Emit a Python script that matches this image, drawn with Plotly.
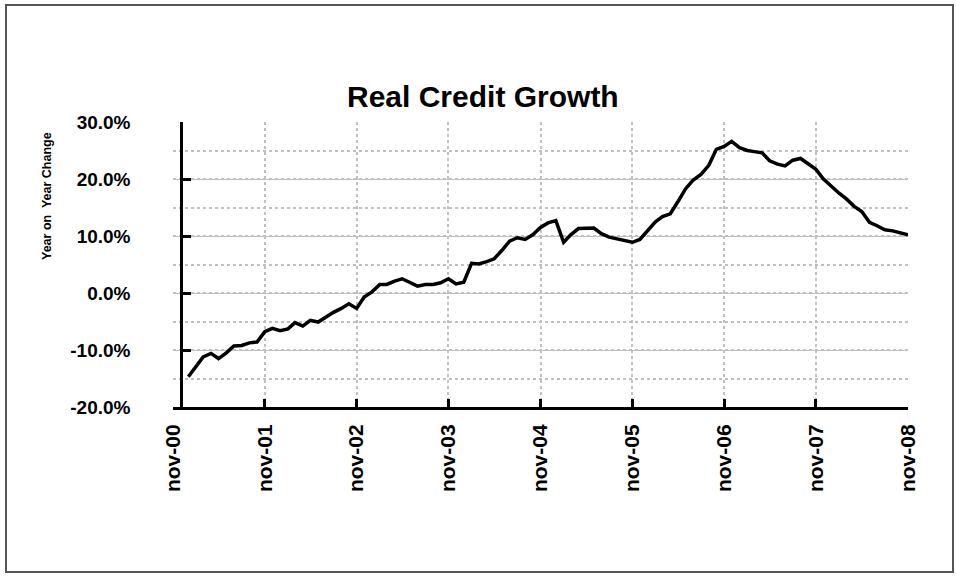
import plotly.graph_objects as go
import pandas as pd

# ── data: monthly real credit growth, Jan-01 .. Nov-08 (% y/y) ─────────────
months = pd.date_range("2001-01-01", "2008-11-01", freq="MS")
growth = [
    # 2001 Jan..Dec
    -14.7, -12.8, -11.2, -10.6, -11.5, -10.5, -9.3, -9.2, -8.75, -8.6, -6.8, -6.2,
    # 2002
    -6.6, -6.3, -5.2, -5.8, -4.8, -5.1, -4.2, -3.4, -2.7, -1.9, -2.7, -0.7,
    # 2003
    0.2, 1.5, 1.5, 2.1, 2.5, 1.9, 1.2, 1.5, 1.5, 1.8, 2.5, 1.6,
    # 2004
    1.9, 5.2, 5.1, 5.5, 6.0, 7.5, 9.1, 9.7, 9.4, 10.2, 11.5, 12.3,
    # 2005
    12.7, 8.9, 10.2, 11.3, 11.3, 11.4, 10.4, 9.8, 9.5, 9.2, 8.9, 9.4,
    # 2006
    11.0, 12.5, 13.4, 13.9, 16.0, 18.3, 19.8, 20.8, 22.4, 25.2, 25.7, 26.6,
    # 2007
    25.5, 25.0, 24.8, 24.6, 23.2, 22.6, 22.3, 23.3, 23.6, 22.7, 21.7, 20.0,
    # 2008 Jan..Nov
    18.7, 17.5, 16.5, 15.2, 14.3, 12.4, 11.8, 11.1, 10.9, 10.6, 10.2,
]
tick_dates = pd.date_range("2000-11-01", "2008-11-01", freq="12MS")
tick_text = [f"nov-{d.year % 100:02d}" for d in tick_dates]
y_ticks = [-20, -10, 0, 10, 20, 30]
y_text = [f"{v:.1f}%" for v in y_ticks]

FONT = "Liberation Sans, Arial, sans-serif"
GRID = "#c0c0c0"

# plot-area geometry (px) used to place paper-ref decorations
L, R, T, B = 173, 908, 122, 407
W, H = 956, 580


def px_to_paper(x, y):
    return (x - L) / (R - L), (B - y) / (B - T)


fig = go.Figure()
fig.add_trace(go.Scatter(
    x=months, y=growth,
    mode="lines",
    line=dict(color="black", width=3.5),
    showlegend=False,
))

# y axis crosses at Dec-00 (first category in the original)
x_range = [tick_dates[0], tick_dates[-1]]
span = (x_range[1] - x_range[0]).days
ypos = (pd.Timestamp("2000-12-04") - x_range[0]).days / span

fig.update_layout(
    width=W, height=H,
    paper_bgcolor="white", plot_bgcolor="white",
    margin=dict(l=L, r=W - R, t=T, b=H - B),
    font=dict(family=FONT, color="black"),
    xaxis=dict(
        type="date", range=x_range,
        tickvals=tick_dates, ticktext=tick_text,
        tickangle=-90,
        tickfont=dict(size=21, family=FONT, weight="bold"),
        showgrid=True, gridcolor=GRID, griddash="dot", gridwidth=1.5,
        showline=True, linecolor="black", linewidth=3,
        ticks="inside", ticklen=8, tickwidth=3, tickcolor="black",
        ticklabelstandoff=6,
        zeroline=False,
    ),
    yaxis=dict(
        range=[-20, 30],
        tickvals=y_ticks, ticktext=y_text,
        tickfont=dict(size=19, family=FONT, weight="bold"),
        anchor="free", position=ypos,
        showgrid=True, gridcolor=GRID, gridwidth=1.2,
        minor=dict(dtick=5, showgrid=True, gridcolor=GRID, griddash="dot", gridwidth=1.5),
        showline=True, linecolor="black", linewidth=3,
        ticks="inside", ticklen=8, tickwidth=3, tickcolor="black",
        ticklabelstandoff=46,
        zeroline=False,
    ),
)

# title and axis caption
fig.add_annotation(
    text="<b>Real Credit Growth</b>", xref="paper", yref="paper",
    x=px_to_paper(483, 0)[0], y=px_to_paper(0, 97)[1],
    xanchor="center", yanchor="middle",
    showarrow=False, font=dict(size=30, family=FONT, color="black"),
)
fig.add_annotation(
    text="<b>Year on  Year Change</b>", xref="paper", yref="paper",
    x=px_to_paper(47, 0)[0], y=px_to_paper(0, 196)[1],
    xanchor="center", yanchor="middle",
    textangle=-90, showarrow=False, font=dict(size=12.5, family=FONT, color="black"),
)

# chart frame
x0, y0 = px_to_paper(6, 5)
x1, y1 = px_to_paper(953, 572)
fig.add_shape(type="rect", xref="paper", yref="paper",
              x0=x0, y0=y1, x1=x1, y1=y0,
              line=dict(color="#555555", width=2), layer="below")

# drop the default page margin so the figure sits at the window origin
fig.write_html("out.html", config={"displayModeBar": False},
               post_script="document.body.style.margin='0';")
